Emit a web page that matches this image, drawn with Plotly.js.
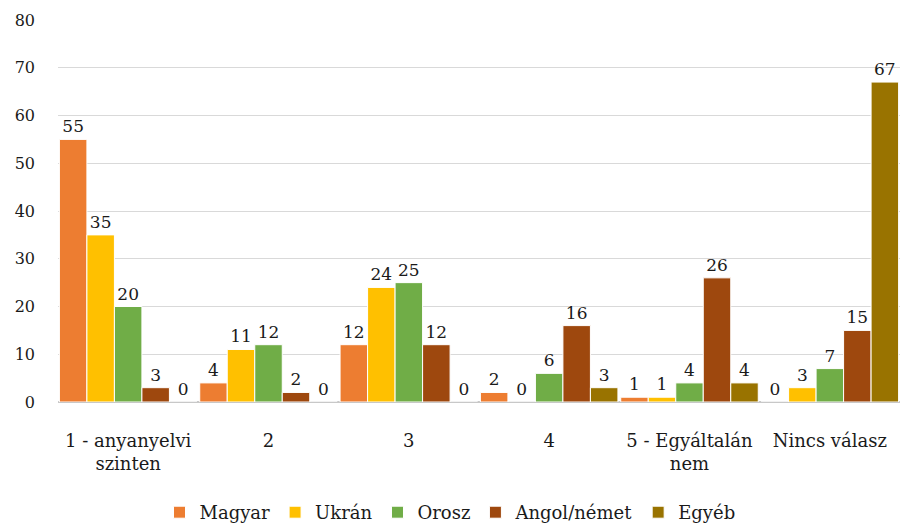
<!DOCTYPE html>
<html><head><meta charset="utf-8">
<script src="https://cdn.plot.ly/plotly-3.0.1.min.js"></script>
<style>body{margin:0;background:#fff}#c{width:900px;height:531px}</style>
</head><body><div id="c"></div>
<script>
const categories = ["1 - anyanyelvi<br>szinten", "2", "3", "4", "5 - Egyáltalán<br>nem", "Nincs válasz"];
const seriesNames = ["Magyar", "Ukrán", "Orosz", "Angol/német", "Egyéb"];
const magyar = [55, 4, 12, 2, 1, 0];
const ukran = [35, 11, 24, 0, 1, 3];
const orosz = [20, 12, 25, 6, 4, 7];
const angol = [3, 2, 12, 16, 26, 15];
const egyeb = [0, 0, 0, 3, 4, 67];
const yTicks = [0, 10, 20, 30, 40, 50, 60, 70, 80];
const colors = ["#ED7D31", "#FFC000", "#70AD47", "#9E480E", "#997300"];
const values = [magyar, ukran, orosz, angol, egyeb];
const font = "DejaVu Serif, serif";
const ink = "#1a1a1a";
const traces = values.map((v, i) => ({
  type: "bar", name: seriesNames[i], x: categories, y: v,
  marker: {color: colors[i], line: {width: 1, color: "#fff"}},
  text: v.map(String), textposition: "outside", cliponaxis: false,
  textfont: {family: font, size: 17, color: ink}
}));
const layout = {
  width: 900, height: 531,
  margin: {l: 58, r: 0, t: 20, b: 129},
  barmode: "group", bargap: 0.02, bargroupgap: 0,
  paper_bgcolor: "#fff", plot_bgcolor: "#fff",
  font: {family: font, size: 16, color: ink},
  xaxis: {type: "category", tickfont: {family: font, size: 18, color: ink}, ticks: "", showgrid: false,
          showline: false, ticklabelstandoff: 26},
  yaxis: {range: [0, 80], tickvals: yTicks, ticktext: yTicks.map(String),
          gridcolor: "#d9d9d9", gridwidth: 1, zeroline: true, zerolinecolor: "#c8c8c8", zerolinewidth: 2,
          showline: false, tickfont: {family: font, size: 16, color: ink}, ticklabelstandoff: 22},
  legend: {orientation: "h", x: 0.5, xanchor: "center", xref: "container", yref: "container", y: -0.03, yanchor: "bottom",
           itemwidth: 30, font: {family: font, size: 18, color: ink}, traceorder: "normal"},
  showlegend: true
};
Plotly.newPlot("c", traces, layout, {displayModeBar: false});
</script></body></html>
